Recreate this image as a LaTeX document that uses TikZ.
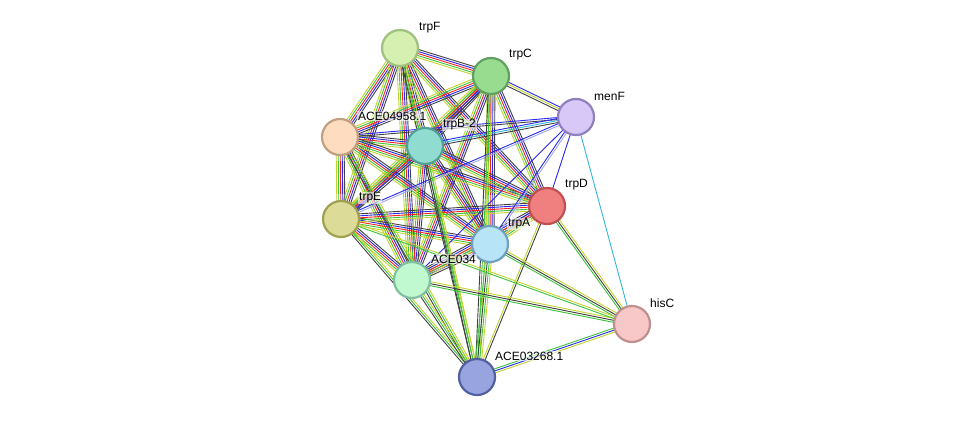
\documentclass[tikz,border=0pt]{standalone}
\usepackage{fontspec}
\setmainfont{Liberation Sans}
\usetikzlibrary{calc,backgrounds}
\definecolor{ly}{HTML}{C2D42C}\definecolor{gr}{HTML}{3CC43C}\definecolor{rd}{HTML}{FF2020}
\definecolor{bl}{HTML}{2828F0}\definecolor{pu}{HTML}{C040C0}\definecolor{bk}{HTML}{404040}
\definecolor{cy}{HTML}{30B8D8}\definecolor{lb}{HTML}{A0A8F0}
\newcommand\edg[3]{%
 \gdef\nn{0}\foreach \c in {#3}{\xdef\nn{\the\numexpr\nn+1}}%
 \foreach \c [count=\i] in {#3}{\pgfmathsetmacro\o{(\i-(\nn+1)/2)*2}%
 \draw[\c,line width=0.9pt] ($(#1)!\o pt!90:(#2)$) -- ($(#2)!\o pt!-90:(#1)$);}}
\tikzset{prot/.style={circle,minimum size=36pt,inner sep=0pt,line width=2.2pt},
lab/.style={font=\fontsize{12}{14}\selectfont,inner sep=1pt,fill=white,fill opacity=0.6,text opacity=1}}
\begin{document}
\begin{tikzpicture}[x=1pt,y=-1pt]
\useasboundingbox (0,0) rectangle (976,423);
\node[prot,fill={rgb,255:red,213;green,240;blue,176},draw={rgb,255:red,160;green,192;blue,128}] (F) at (400,48) {};
\node[prot,fill={rgb,255:red,152;green,220;blue,144},draw={rgb,255:red,96;green,160;blue,96}] (C) at (491,76) {};
\node[prot,fill={rgb,255:red,216;green,200;blue,248},draw={rgb,255:red,144;green,128;blue,192}] (M) at (576,117) {};
\node[prot,fill={rgb,255:red,253;green,220;blue,192},draw={rgb,255:red,192;green,160;blue,128}] (W) at (340,137) {};
\node[prot,fill={rgb,255:red,144;green,220;blue,208},draw={rgb,255:red,80;green,160;blue,152}] (B) at (425,146) {};
\node[prot,fill={rgb,255:red,240;green,128;blue,128},draw={rgb,255:red,192;green,80;blue,80}] (D) at (547,206) {};
\node[prot,fill={rgb,255:red,220;green,220;blue,152},draw={rgb,255:red,160;green,160;blue,80}] (E) at (341,219) {};
\node[prot,fill={rgb,255:red,184;green,228;blue,248},draw={rgb,255:red,112;green,160;blue,192}] (A) at (490,244) {};
\node[prot,fill={rgb,255:red,192;green,248;blue,208},draw={rgb,255:red,128;green,192;blue,160}] (K) at (412,280) {};
\node[prot,fill={rgb,255:red,248;green,200;blue,200},draw={rgb,255:red,192;green,144;blue,144}] (H) at (632,324) {};
\node[prot,fill={rgb,255:red,152;green,164;blue,224},draw={rgb,255:red,80;green,96;blue,160}] (R) at (477,377) {};
\begin{scope}[on background layer]
\foreach \a/\b in {F/C,F/W,F/B,F/E,F/A,F/K,F/D,C/W,C/B,C/E,C/A,C/K,C/D,W/B,W/E,W/A,W/K,W/D,B/E,B/A,B/K,B/D,E/A,E/K,E/D,A/K,A/D,K/D}{\edg{\a}{\b}{ly,gr,rd,bl,bk}}
\edg{M}{C}{bl,ly,bk}\edg{M}{W}{bl,bk}\edg{M}{B}{bl,cy,bk}\edg{M}{D}{bl}\edg{M}{A}{bl,lb}
\edg{M}{E}{bl,lb}\edg{M}{K}{bl}\edg{M}{H}{cy}
\foreach \a in {F,C,W,B,E,K}{\edg{R}{\a}{ly,gr,bk}}
\edg{R}{A}{ly,gr,bk,gr}\edg{R}{D}{bk,ly}\edg{R}{H}{ly,bl,gr}
\edg{H}{A}{ly,bk,gr}\edg{H}{D}{ly,bk,gr}\edg{H}{K}{ly,bk,gr}\edg{H}{E}{ly,gr}
\end{scope}
\node[lab,anchor=west] at (418,28) {trpF};
\node[lab,anchor=west] at (508,55) {trpC};
\node[lab,anchor=west] at (593,96) {menF};
\node[lab,anchor=west] at (357,116) {ACE04958.1};
\node[lab,anchor=west] at (442,125) {trpB-2};
\node[lab,anchor=west] at (564,185) {trpD};
\node[lab,anchor=west] at (358,198) {trpE};
\node[lab,anchor=west] at (507,224) {trpA};
\node[lab,anchor=west] at (430,259) {ACE034};
\node[lab,anchor=west] at (649,303) {hisC};
\node[lab,anchor=west] at (494,356) {ACE03268.1};
\end{tikzpicture}
\end{document}
